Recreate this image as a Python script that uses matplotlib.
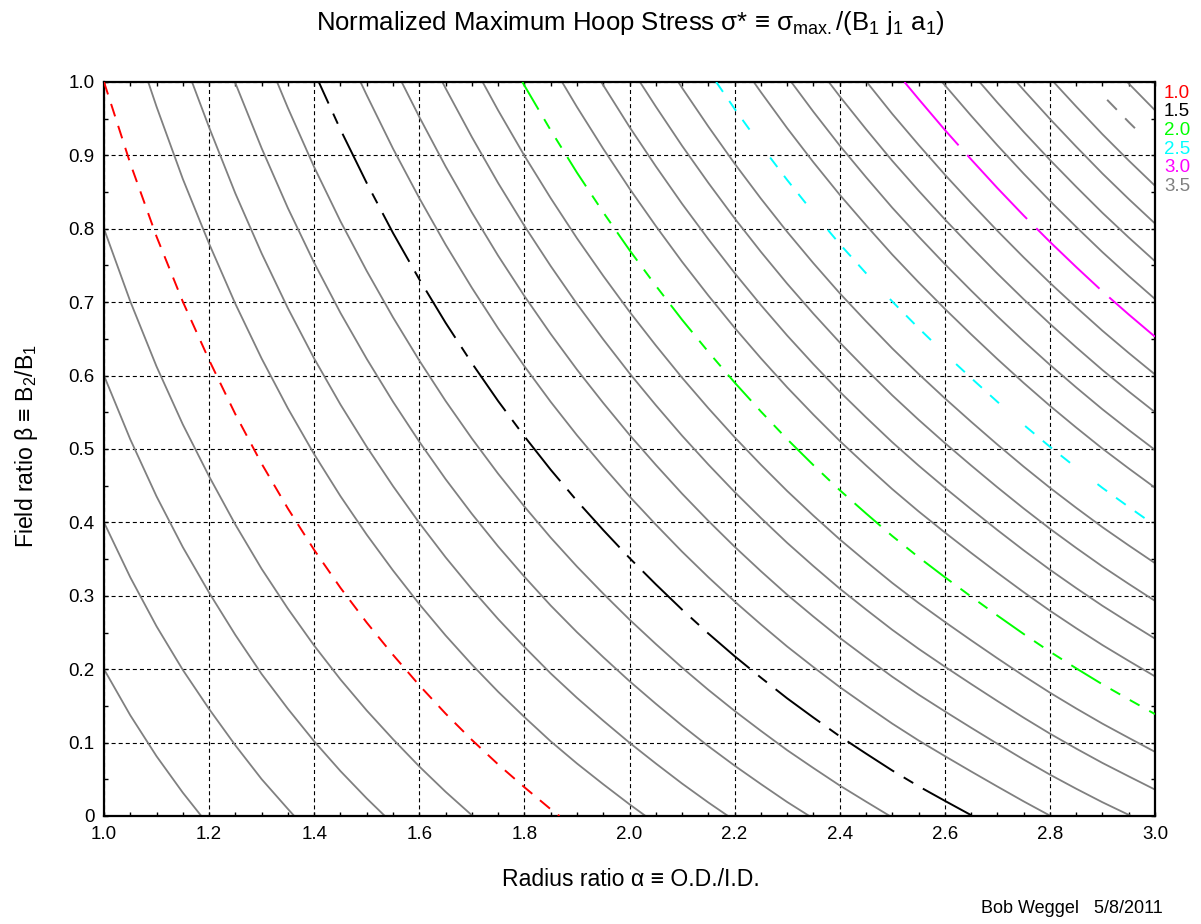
import numpy as np
import matplotlib
matplotlib.use("Agg")
import matplotlib.pyplot as plt
from matplotlib.ticker import MultipleLocator

plt.rcParams["font.family"] = ["Liberation Sans", "DejaVu Sans"]
plt.rcParams["mathtext.fontset"] = "custom"
plt.rcParams["mathtext.rm"] = "Liberation Sans"
plt.rcParams["mathtext.default"] = "regular"
plt.rcParams["lines.scale_dashes"] = False

alpha = [1.00, 1.05, 1.10, 1.15, 1.20, 1.25, 1.30, 1.35, 1.40, 1.45, 1.50,
         1.55, 1.60, 1.65, 1.70, 1.75, 1.80, 1.85, 1.90, 1.95, 2.00,
         2.05, 2.10, 2.15, 2.20, 2.25, 2.30, 2.35, 2.40, 2.45, 2.50,
         2.55, 2.60, 2.65, 2.70, 2.75, 2.80, 2.85, 2.90, 2.95, 3.00]
beta_edge = [0.0, 1.0]
sigma_beta0 = [0.500, 0.527, 0.554, 0.581, 0.608, 0.636, 0.665, 0.693, 0.722, 0.751, 0.780,
               0.809, 0.839, 0.869, 0.899, 0.929, 0.959, 0.990, 1.020, 1.050, 1.081,
               1.112, 1.144, 1.176, 1.208, 1.240, 1.273, 1.305, 1.338, 1.370, 1.403,
               1.435, 1.466, 1.498, 1.531, 1.565, 1.599, 1.632, 1.665, 1.697, 1.730]
sigma_beta1 = [1.000, 1.059, 1.119, 1.179, 1.239, 1.301, 1.363, 1.426, 1.489, 1.552, 1.615,
               1.679, 1.743, 1.808, 1.873, 1.939, 2.005, 2.071, 2.138, 2.205, 2.273,
               2.341, 2.410, 2.479, 2.549, 2.619, 2.689, 2.759, 2.829, 2.898, 2.968,
               3.037, 3.107, 3.177, 3.248, 3.319, 3.390, 3.461, 3.533, 3.604, 3.675]

gray_levels = [0.6, 0.7, 0.8, 0.9, 1.1, 1.2, 1.3, 1.4, 1.6, 1.7, 1.8, 1.9,
               2.1, 2.2, 2.3, 2.4, 2.6, 2.7, 2.8, 2.9, 3.1, 3.2, 3.3, 3.4, 3.6]
hi_levels = [1.0, 1.5, 2.0, 2.5, 3.0, 3.5]
hi_labels = ["1.0", "1.5", "2.0", "2.5", "3.0", "3.5"]
hi_colors = ["#ff0000", "#000000", "#00ff00", "#00ffff", "#ff00ff", "#808080"]

xticks = [1.0, 1.2, 1.4, 1.6, 1.8, 2.0, 2.2, 2.4, 2.6, 2.8, 3.0]
xticklabels = ["1.0", "1.2", "1.4", "1.6", "1.8", "2.0", "2.2", "2.4", "2.6", "2.8", "3.0"]
yticks = [0, 0.1, 0.2, 0.3, 0.4, 0.5, 0.6, 0.7, 0.8, 0.9, 1.0]
yticklabels = ["0", "0.1", "0.2", "0.3", "0.4", "0.5", "0.6", "0.7", "0.8", "0.9", "1.0"]

# dash patterns in points (measured in px / 1.39), offsets set the phase at the top edge
hi_dashes = [(0, (9.4, 7.2)),
             (23, (40, 8, 8, 8)),
             (2, (25, 8, 8, 8, 8, 8)),
             (0, (8.6, 8, 8.6, 8, 8.6, 25)),
             (3, (63, 9.4)),
             (52, (10, 8.6, 10, 41))]

W, H = 1201, 924
fig = plt.figure(figsize=(W / 100, H / 100), dpi=100)
ax = fig.add_axes([104 / W, (H - 816) / H, (1155 - 104) / W, (816 - 82) / H])

Z = np.array([sigma_beta0, sigma_beta1])

ax.contour(alpha, beta_edge, Z, levels=gray_levels, colors="#808080",
           linewidths=1.3, linestyles="solid", zorder=2)
for lev, col, ds in zip(hi_levels, hi_colors, hi_dashes):
    ax.contour(alpha, beta_edge, Z, levels=[lev], colors=[col],
               linewidths=1.4, linestyles=[ds], zorder=3)

ax.set_xlim(1.0, 3.0)
ax.set_ylim(0, 1.0)
ax.set_xticks(xticks, labels=xticklabels)
ax.set_yticks(yticks, labels=yticklabels)
ax.xaxis.set_minor_locator(MultipleLocator(0.05))
ax.yaxis.set_minor_locator(MultipleLocator(0.05))
ax.tick_params(which="both", direction="in", top=True, right=True,
               length=3, width=1.0, labelsize=13.5, pad=7)
ax.grid(True, which="major", color="black", lw=0.8, ls=(0, (2.9, 2.2)))
ax.set_axisbelow(True)
for sp in ax.spines.values():
    sp.set_linewidth(1.6)

fig.text(0.5245, 1 - 30 / H,
         "Normalized Maximum Hoop Stress σ* ≡ σ$_{max.}$/(B$_1$ j$_1$ a$_1$)",
         ha="center", va="baseline", fontsize=18.5)
fig.text(631 / W, 1 - 880 / H, "Radius ratio α ≡ O.D./I.D.",
         ha="center", va="center", fontsize=16.6)
fig.text(26 / W, 1 - 446 / H, "Field ratio β ≡ B$_2$/B$_1$",
         ha="center", va="center", rotation=90, fontsize=16.6)
fig.text(1163 / W, 1 - 913 / H, "Bob Weggel   5/8/2011",
         ha="right", va="baseline", fontsize=13)

for i, (lab, col) in enumerate(zip(hi_labels, hi_colors)):
    fig.text(1164 / W, 1 - (93 + 18.7 * i) / H, lab, color=col,
             ha="left", va="center", fontsize=13.5)

fig.savefig("out.png", dpi=100)
